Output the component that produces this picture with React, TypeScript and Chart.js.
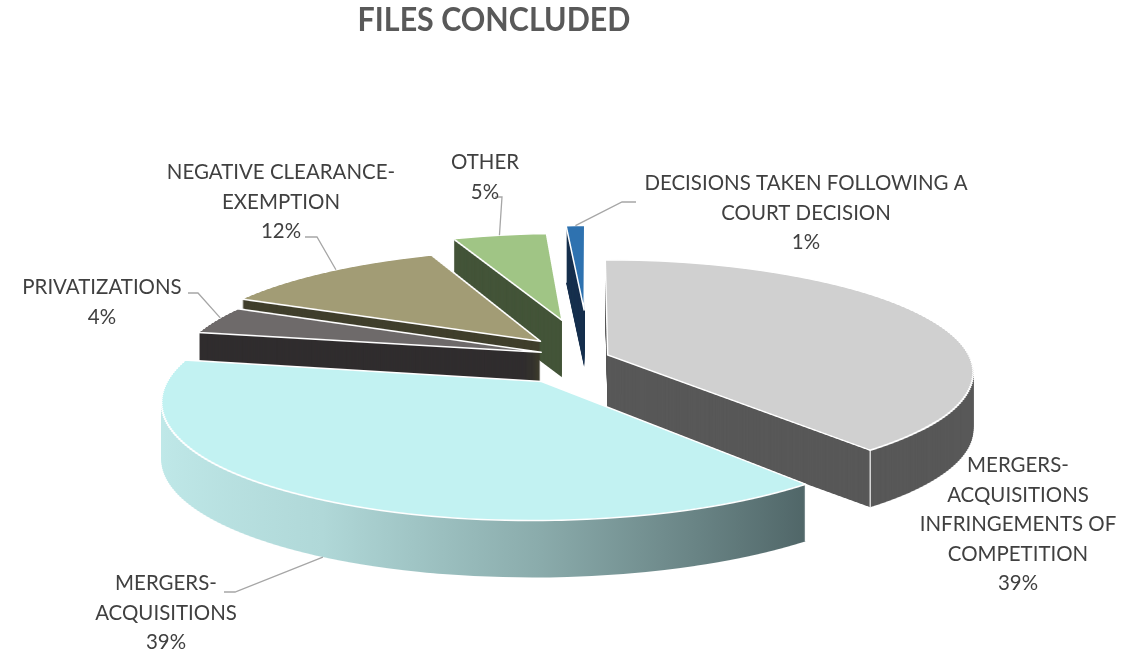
import React, { useEffect, useRef } from "react";
import { Chart, registerables, ArcElement } from "chart.js";

Chart.register(...registerables);

// ---------------- DATA ----------------
const TITLE = "FILES CONCLUDED";
const CATEGORIES = [
  "MERGERS-ACQUISITIONS INFRINGEMENTS OF COMPETITION",
  "MERGERS-ACQUISITIONS",
  "PRIVATIZATIONS",
  "NEGATIVE CLEARANCE-EXEMPTION",
  "OTHER",
  "DECISIONS TAKEN FOLLOWING A COURT DECISION",
];
const VALUES = [39, 39, 4, 12, 5, 1];
const LABEL_LINES = [
  ["MERGERS-", "ACQUISITIONS", "INFRINGEMENTS OF", "COMPETITION"],
  ["MERGERS-", "ACQUISITIONS"],
  ["PRIVATIZATIONS"],
  ["NEGATIVE CLEARANCE-", "EXEMPTION"],
  ["OTHER"],
  ["DECISIONS TAKEN FOLLOWING A", "COURT DECISION"],
];

// ---------------- STYLE ----------------
const TOP_COLORS = ["#d0d0d0", "#c2f2f2", "#6e6a6a", "#a29c75", "#a0c585", "#2e72b0"];
const SIDE_COLORS = ["#585858", "gradient", "#302d2e", "#403f2c", "#435438", "#17304e"];
const CYAN_SIDE_STOPS: [number, string][] = [
  [0, "#c0e9e9"],
  [0.3, "#b0d8d8"],
  [0.6, "#8aabab"],
  [1, "#4a5f61"],
];
const EXPLODE = [0.055, 0.25, 0.14, 0.2, 0.36, 0.456]; // fraction of radius
// perspective projection: screenY = A*y/(1-B*y), screenX = C*x/(1-B*y) (x,y in radius units)
const PROJ = { A: 110, B: 0.15, C: 362, depth: 57, band: 2 };

const LABEL_LAYOUT = [
  { x: 1018, y: 465, attach: -1, bottom: false, leader: [] as number[][] },
  { x: 166, y: 583, attach: 0.49, bottom: true, leader: [[235, 592], [224, 592]] },
  { x: 102, y: 287, attach: 0.6, bottom: false, leader: [[198, 293], [188, 293]] },
  { x: 281, y: 172, attach: 0.55, bottom: false, leader: [[317, 237], [305, 237]] },
  { x: 485, y: 162, attach: 0.5, bottom: false, leader: [[502, 197], [495, 197]] },
  { x: 806, y: 183, attach: 0.5, bottom: false, leader: [[622, 202], [636, 202]] },
];
const LINE_H = 29.5;
const LABEL_FONT = "22px Lato, 'Open Sans', sans-serif";
const LABEL_SQUEEZE = 0.93;
const TITLE_FONT = "bold 32px Lato, 'Open Sans', sans-serif";
const TITLE_SQUEEZE = 0.95;

function squeezedText(ctx: CanvasRenderingContext2D, t: string, x: number, y: number, sq: number) {
  ctx.save();
  ctx.translate(x, y);
  ctx.scale(sq, 1);
  ctx.fillText(t, 0, 0);
  ctx.restore();
}

const Fy = (y: number) => (PROJ.A * y) / (1 - PROJ.B * y);
const FyInv = (s: number) => s / (PROJ.A + s * PROJ.B);

const pie3d = {
  id: "pie3d",
  beforeDatasetsDraw(chart: any) {
    const meta = chart.getDatasetMeta(0);
    const arcs = meta.data;
    if (!arcs.length) return;
    const ctx: CanvasRenderingContext2D = chart.ctx;
    const base = ctx.getTransform();
    const a0 = arcs[0];
    const cx = a0.x;
    const cy = a0.y;
    const R0 = a0.outerRadius;
    const W = chart.width;
    const h = PROJ.band;

    const project = (xn: number, yn: number) => [
      cx + (PROJ.C * xn) / (1 - PROJ.B * yn),
      cy + Fy(yn),
    ];

    const trans = arcs.map((arc: any, i: number) => {
      const m = (arc.startAngle + arc.endAngle) / 2;
      return [Math.cos(m) * EXPLODE[i], Math.sin(m) * EXPLODE[i]];
    });

    const ranges = arcs.map((arc: any, i: number) => {
      const [tx, ty] = trans[i];
      let lo = Fy(ty);
      let hi = lo;
      for (let s = 0; s <= 40; s++) {
        const a = arc.startAngle + ((arc.endAngle - arc.startAngle) * s) / 40;
        const v = Fy(ty + Math.sin(a));
        lo = Math.min(lo, v);
        hi = Math.max(hi, v);
      }
      return [Math.floor((lo - 3) / h), Math.ceil((hi + 3) / h)];
    });

    const bandCache: Record<number, number[]> = {};
    const band = (k: number) => {
      if (bandCache[k]) return bandCache[k];
      const s0 = k * h;
      const s1 = s0 + h;
      const y0 = FyInv(s0);
      const y1 = FyInv(s1);
      const ym = (y0 + y1) / 2;
      const kx = PROJ.C / (R0 * (1 - PROJ.B * ym));
      const ky = (s1 - s0) / ((y1 - y0) * R0);
      return (bandCache[k] = [s0, y0, kx, ky]);
    };

    const grad = ctx.createLinearGradient(cx - R0, 0, cx + 0.7 * R0, 0);
    CYAN_SIDE_STOPS.forEach(([o, c]) => grad.addColorStop(o, c));

    const makeFake = (arc: any, fill: any, bw: number) => {
      const fake = Object.create(arc);
      fake.options = {
        ...arc.options,
        backgroundColor: fill,
        borderColor: "#ffffff",
        borderWidth: bw,
        borderAlign: "center",
        borderJoinStyle: "round",
        offset: 0,
        spacing: 0,
      };
      return fake;
    };

    const drawBands = (i: number, d: number, fake: any) => {
      const [tx, ty] = trans[i];
      const [k0, k1] = ranges[i];
      for (let k = k0; k <= k1; k++) {
        const [s0, y0, kx, ky] = band(k);
        ctx.save();
        ctx.beginPath();
        ctx.rect(-10, cy + s0 + d, W + 20, h);
        ctx.clip();
        ctx.translate(cx, cy + d + s0 - y0 * R0 * ky);
        ctx.scale(kx, ky);
        ctx.translate(-cx + tx * R0, -cy + ty * R0);
        ArcElement.prototype.draw.call(fake, ctx);
        ctx.restore();
      }
    };

    const order = arcs
      .map((arc: any, i: number) => {
        let m = (arc.startAngle + arc.endAngle) / 2 - Math.PI / 2;
        m = Math.atan2(Math.sin(m), Math.cos(m));
        return { i, dist: Math.abs(m) };
      })
      .sort((p: any, q: any) => q.dist - p.dist)
      .map((p: any) => p.i);

    const origStroke = ctx.stroke;
    order.forEach((i: number) => {
      const arc = arcs[i];
      const [tx, ty] = trans[i];
      const sideFill = SIDE_COLORS[i] === "gradient" ? grad : SIDE_COLORS[i];
      const sideFake = makeFake(arc, sideFill, 0);
      for (let d = PROJ.depth; d >= 1; d--) drawBands(i, d, sideFake);

      ctx.save();
      ctx.strokeStyle = "rgba(255,255,255,0.95)";
      ctx.lineWidth = 1.2;
      const corners = [
        { a: arc.startAngle, n: arc.startAngle - Math.PI / 2 },
        { a: arc.endAngle, n: arc.endAngle + Math.PI / 2 },
      ];
      corners.forEach(({ a, n }) => {
        if (Math.sin(a) > 0.02 || Math.sin(n) > 0.02) {
          const p = project(tx + Math.cos(a), ty + Math.sin(a));
          ctx.beginPath();
          ctx.moveTo(p[0], p[1]);
          ctx.lineTo(p[0], p[1] + PROJ.depth);
          ctx.stroke();
        }
      });
      ctx.restore();

      (ctx as any).stroke = function () {
        ctx.save();
        ctx.setTransform(base);
        origStroke.call(ctx);
        ctx.restore();
      };
      drawBands(i, 0, makeFake(arc, TOP_COLORS[i], 1.5));
      delete (ctx as any).stroke;
    });

    chart.$pie3d = { trans, project };
    return false;
  },
  afterDraw(chart: any) {
    const ctx: CanvasRenderingContext2D = chart.ctx;
    const geo = chart.$pie3d;
    ctx.save();
    ctx.font = TITLE_FONT;
    ctx.fillStyle = "#595959";
    ctx.textAlign = "center";
    ctx.textBaseline = "middle";
    squeezedText(ctx, TITLE, 494, 21, TITLE_SQUEEZE);

    const total = VALUES.reduce((a, b) => a + b, 0);
    const arcs = chart.getDatasetMeta(0).data;
    ctx.strokeStyle = "#a6a6a6";
    ctx.lineWidth = 1.3;
    LABEL_LAYOUT.forEach((L, i) => {
      if (L.attach < 0 || !geo) return;
      const arc = arcs[i];
      const a = arc.startAngle + L.attach * (arc.endAngle - arc.startAngle);
      const [tx, ty] = geo.trans[i];
      const p = geo.project(tx + Math.cos(a), ty + Math.sin(a));
      if (L.bottom) p[1] += PROJ.depth;
      ctx.beginPath();
      ctx.moveTo(p[0], p[1]);
      L.leader.forEach(([x, y]) => ctx.lineTo(x, y));
      ctx.stroke();
    });
    ctx.font = LABEL_FONT;
    ctx.fillStyle = "#404040";
    LABEL_LAYOUT.forEach((L, i) => {
      const lines = [...LABEL_LINES[i], `${Math.round((VALUES[i] / total) * 100)}%`];
      lines.forEach((t, k) => squeezedText(ctx, t, L.x, L.y + k * LINE_H, LABEL_SQUEEZE));
    });
    ctx.restore();
  },
};

export default function App() {
  const ref = useRef<HTMLCanvasElement>(null);
  useEffect(() => {
    document.body.style.margin = "0";
    const chart = new Chart(ref.current!, {
      type: "pie",
      data: {
        labels: CATEGORIES,
        datasets: [
          {
            data: VALUES,
            backgroundColor: TOP_COLORS,
            borderWidth: 0,
          },
        ],
      },
      options: {
        responsive: false,
        animation: false,
        events: [],
        layout: { padding: { left: 40, top: 60, right: 0, bottom: 0 } },
        plugins: {
          legend: { display: false },
          tooltip: { enabled: false },
          title: { display: false },
        },
      },
      plugins: [pie3d],
    });
    return () => chart.destroy();
  }, []);
  return (
    <div style={{ width: 1138, height: 654, background: "#fff" }}>
      <canvas ref={ref} width={1138} height={654} style={{ display: "block" }} />
    </div>
  );
}
